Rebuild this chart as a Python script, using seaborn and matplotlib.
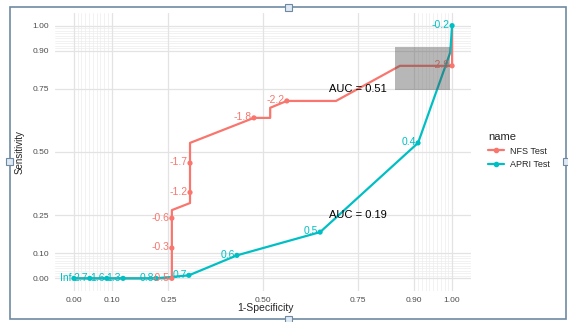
import numpy as np
import pandas as pd
import matplotlib
matplotlib.use("Agg")
import matplotlib.pyplot as plt
from matplotlib.lines import Line2D
from matplotlib.patches import Rectangle
import seaborn as sns

# ROC paths (1-specificity, sensitivity)
nfs_fpr = [0.0, 0.259, 0.259, 0.307, 0.307, 0.476, 0.519, 0.519, 0.563, 0.693, 0.862, 1.0, 1.0]
nfs_tpr = [0.0, 0.0, 0.27, 0.298, 0.536, 0.635, 0.635, 0.675, 0.702, 0.702, 0.841, 0.841, 1.0]
apri_fpr = [0.0, 0.042, 0.087, 0.13, 0.217, 0.304, 0.431, 0.651, 0.91, 0.995, 1.0]
apri_tpr = [0.0, 0.0, 0.0, 0.0, 0.0, 0.012, 0.091, 0.183, 0.536, 0.893, 1.0]

# labelled cutoffs
nfs_cut_fpr = [0.259, 0.259, 0.259, 0.307, 0.307, 0.476, 0.563, 1.0]
nfs_cut_tpr = [0.0, 0.12, 0.238, 0.34, 0.456, 0.635, 0.702, 0.841]
nfs_cut_lab = ["-0.5", "-0.3", "-0.6", "-1.2", "-1.7", "-1.8", "-2.2", "-2.9"]
apri_cut_fpr = [0.0, 0.042, 0.087, 0.13, 0.217, 0.304, 0.431, 0.651, 0.91, 1.0]
apri_cut_tpr = [0.0, 0.0, 0.0, 0.0, 0.0, 0.012, 0.091, 0.183, 0.536, 1.0]
apri_cut_lab = ["Inf", "2.7", "1.6", "1.3", "0.8", "0.7", "0.6", "0.5", "0.4", "-0.2"]

names = ["NFS Test", "APRI Test"]
auc_vals = [0.51, 0.19]
auc_y = [0.75, 0.25]
ci_x = [0.85, 0.995]
ci_y = [0.746, 0.917]

breaks = [0, 0.1, 0.25, 0.5, 0.75, 0.9, 1]
colors = {"NFS Test": "#F8766D", "APRI Test": "#00BFC4"}

path = pd.concat([
    pd.DataFrame({"fpr": nfs_fpr, "tpr": nfs_tpr, "name": names[0]}),
    pd.DataFrame({"fpr": apri_fpr, "tpr": apri_tpr, "name": names[1]}),
], ignore_index=True)
cuts = pd.concat([
    pd.DataFrame({"fpr": nfs_cut_fpr, "tpr": nfs_cut_tpr, "lab": nfs_cut_lab, "name": names[0]}),
    pd.DataFrame({"fpr": apri_cut_fpr, "tpr": apri_cut_tpr, "lab": apri_cut_lab, "name": names[1]}),
], ignore_index=True)

sns.set_style("white")
plt.rcParams["font.family"] = ["Liberation Sans", "DejaVu Sans"]

fig = plt.figure(figsize=(5.68, 3.22), dpi=100)
ax = fig.add_axes([55 / 568, 31 / 322, 416 / 568, 278 / 322])

# grid like plotROC style_roc
minor = list(np.arange(0.01, 0.1, 0.01)) + list(np.arange(0.91, 1.0, 0.01))
for m in minor:
    ax.axvline(m, color="#ededed", lw=0.5, zorder=0)
    ax.axhline(m, color="#ededed", lw=0.5, zorder=0)
for b in breaks:
    ax.axvline(b, color="#e3e3e3", lw=0.9, zorder=0)
    ax.axhline(b, color="#e3e3e3", lw=0.9, zorder=0)

sns.lineplot(data=path, x="fpr", y="tpr", hue="name", hue_order=names, palette=colors,
             sort=False, estimator=None, lw=1.6, legend=False, ax=ax)
sns.scatterplot(data=cuts, x="fpr", y="tpr", hue="name", hue_order=names, palette=colors,
                s=14, linewidth=0, legend=False, ax=ax, zorder=3)

for _, r in cuts.iterrows():
    ax.annotate(r["lab"], (r["fpr"], r["tpr"]), xytext=(-1.5, 0.5), textcoords="offset points",
                ha="right", va="center", fontsize=7.5, color=colors[r["name"]], zorder=4)

ax.fill_between(ci_x, ci_y[0], ci_y[1], color="#4d4d4d", alpha=0.4, lw=0, zorder=5)

for a, y in zip(auc_vals, auc_y):
    ax.text(0.75, y, f"AUC = {a:.2f}", ha="center", va="center", fontsize=8, color="black", zorder=6)

ax.set_xlim(-0.05, 1.05)
ax.set_ylim(-0.05, 1.05)
ax.set_xticks(breaks)
ax.set_xticklabels([f"{b:.2f}" for b in breaks])
ax.set_yticks(breaks)
ax.set_yticklabels([f"{b:.2f}" for b in breaks])
ax.tick_params(length=0, labelsize=6, colors="#4d4d4d", pad=4)
ax.set_xlabel("")
ax.set_ylabel("")
for s in ax.spines.values():
    s.set_visible(False)

fig.text(265 / 568, 1 - 308 / 322, "1-Specificity", ha="center", va="center", fontsize=7.5)
fig.text(20 / 568, 1 - 152 / 322, "Sensitivity", ha="center", va="center", fontsize=7, rotation=90)

handles = [Line2D([0], [0], color=colors[n], lw=1.6, marker="o", markersize=3) for n in names]
leg = fig.legend(handles, names, title="name", loc="upper left", bbox_to_anchor=(480 / 568, 1 - 124 / 322),
                 frameon=False, fontsize=6.5, title_fontsize=8, handlelength=1.8, labelspacing=0.5,
                 handletextpad=0.6, alignment="left")

# screenshot frame with resize handles
edge = "#6e8aa3"
fig.add_artist(Rectangle((9.5 / 568, 3 / 322), 556.5 / 568, 312 / 322, transform=fig.transFigure,
                         fill=False, edgecolor=edge, lw=1.2))
for hx, hy in [(288, 7), (288, 319), (9.5, 161), (566, 161)]:
    fig.add_artist(Rectangle(((hx - 3.5) / 568, 1 - (hy + 3.5) / 322), 7 / 568, 7 / 322,
                             transform=fig.transFigure, facecolor="#dfe9f3", edgecolor=edge, lw=0.8))

fig.savefig("out.png", dpi=100)
